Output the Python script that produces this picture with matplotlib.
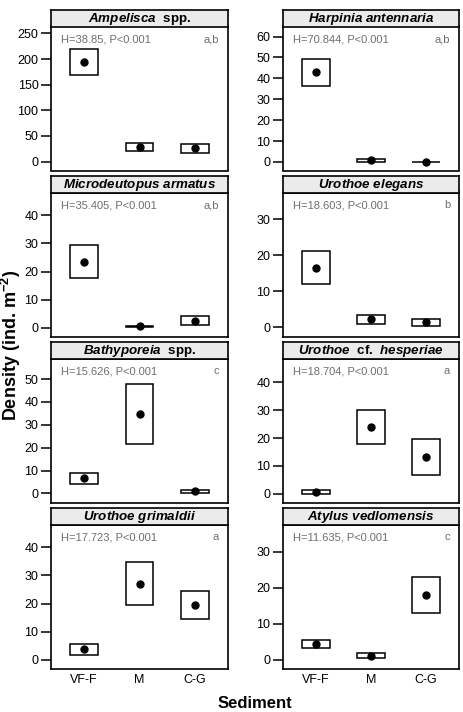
import matplotlib
matplotlib.use("Agg")
import matplotlib.pyplot as plt
import numpy as np

plt.rcParams['font.family'] = 'sans-serif'
plt.rcParams['font.sans-serif'] = ['Liberation Sans', 'DejaVu Sans']
plt.rcParams['mathtext.fontset'] = 'custom'
plt.rcParams['mathtext.bfit'] = 'Liberation Sans:italic:bold'
plt.rcParams['mathtext.bf'] = 'Liberation Sans:bold'
plt.rcParams['mathtext.rm'] = 'Liberation Sans'

# ---- data ----
sediments = ["VF-F", "M", "C-G"]

titles = [
    r"$\mathbfit{Ampelisca}$  spp.",
    r"$\mathbfit{Harpinia\ antennaria}$",
    r"$\mathbfit{Microdeutopus\ armatus}$",
    r"$\mathbfit{Urothoe\ elegans}$",
    r"$\mathbfit{Bathyporeia}$  spp.",
    r"$\mathbfit{Urothoe}$  cf.  $\mathbfit{hesperiae}$",
    r"$\mathbfit{Urothoe\ grimaldii}$",
    r"$\mathbfit{Atylus\ vedlomensis}$",
]
stats = ["H=38.85, P<0.001", "H=70.844, P<0.001", "H=35.405, P<0.001",
         "H=18.603, P<0.001", "H=15.626, P<0.001", "H=18.704, P<0.001",
         "H=17.723, P<0.001", "H=11.635, P<0.001"]
letters = ["a,b", "a,b", "a,b", "b", "c", "a", "a", "c"]

mean_vals = [
    [194, 29, 26],
    [42.9, 0.8, 0.0],
    [23.5, 0.4, 2.5],
    [16.5, 2.3, 1.4],
    [6.7, 34.8, 0.9],
    [0.7, 23.8, 13.1],
    [3.8, 27.1, 19.5],
    [4.3, 1.0, 17.9],
]
low_vals = [
    [168, 20, 17.4],
    [36.2, 0.1, 0.0],
    [17.6, 0.2, 0.9],
    [12.0, 1.1, 0.4],
    [4.3, 21.7, 0.1],
    [0.0, 17.7, 6.9],
    [1.6, 19.6, 14.4],
    [3.1, 0.3, 12.9],
]
high_vals = [
    [220, 35.5, 34],
    [49.2, 1.5, 0.0],
    [29.3, 0.6, 4.2],
    [21.2, 3.4, 2.4],
    [9.0, 47.7, 1.4],
    [1.3, 30.1, 19.5],
    [5.7, 34.8, 24.6],
    [5.3, 1.7, 22.9],
]
y_limits = [(-17.4, 263.6), (-4.1, 64.8), (-3.2, 48.2), (-2.5, 37.4),
            (-4.0, 59.0), (-3.1, 48.5), (-3.2, 48.2), (-2.5, 37.6)]
y_tick_max = [250, 60, 40, 30, 50, 40, 40, 30]
y_tick_step = [50, 10, 10, 10, 10, 10, 10, 10]

# ---- layout (pixels) ----
W, H = 464, 712
fig = plt.figure(figsize=(W / 100, H / 100), dpi=100)

col_x = [(51, 228), (283, 459)]
row_top = [10, 176, 342, 508]
strip_h = 16.5
plot_h = 144

x = np.arange(1, 4)
for i in range(8):
    r, c = divmod(i, 2)
    x0, x1 = col_x[c]
    top = row_top[r]
    ax = fig.add_axes([x0 / W, 1 - (top + strip_h + plot_h) / H,
                       (x1 - x0) / W, plot_h / H])
    sx = fig.add_axes([x0 / W, 1 - (top + strip_h) / H,
                       (x1 - x0) / W, strip_h / H])
    sx.set_facecolor('#ebebeb')
    sx.set_xticks([])
    sx.set_yticks([])
    for sp in sx.spines.values():
        sp.set_linewidth(1.2)
    sx.text(0.5, 0.45, titles[i], ha='center', va='center',
            fontsize=9.6, fontweight='bold', transform=sx.transAxes)

    lo = np.array(low_vals[i])
    hi = np.array(high_vals[i])
    ax.bar(x, hi - lo, bottom=lo, width=0.5, facecolor='white',
           edgecolor='black', linewidth=1.1, zorder=2)
    ax.plot(x, mean_vals[i], 'o', color='black', markersize=5, zorder=3)

    ax.set_xlim(0.4, 3.6)
    ax.set_ylim(*y_limits[i])
    ax.set_yticks(np.arange(0, y_tick_max[i] + 1, y_tick_step[i]))
    ax.tick_params(axis='y', direction='out', length=7, width=1.1,
                   labelsize=9, pad=2, colors='black')
    if r == 3:
        ax.set_xticks(x)
        ax.set_xticklabels(sediments)
        ax.tick_params(axis='x', length=0, labelsize=9, pad=4)
    else:
        ax.set_xticks([])
    for sp in ax.spines.values():
        sp.set_linewidth(1.2)

    ax.text(0.056, 0.91, stats[i], transform=ax.transAxes, ha='left',
            va='center', fontsize=8, color='#6e6e6e')
    ax.text(0.95, 0.91, letters[i], transform=ax.transAxes, ha='right',
            va='center', fontsize=8, color='#6e6e6e')

fig.text(11 / W, 1 - 345 / H, r"Density (ind. m$^{\mathbf{-2}}$)",
         rotation=90, ha='center', va='center', fontsize=13,
         fontweight='bold')
fig.text(255 / W, 1 - 703 / H, "Sediment", ha='center', va='center',
         fontsize=12, fontweight='bold')

fig.savefig('out.png', dpi=100)
